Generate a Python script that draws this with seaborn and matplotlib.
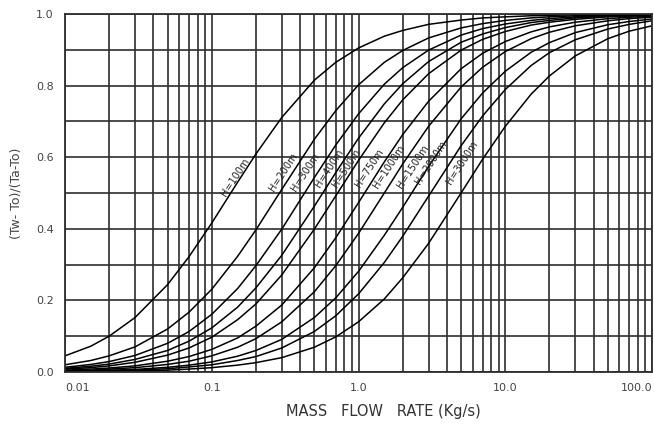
#chart of temperature ratio vs mass flow rate for several heights H
import numpy as np
import pandas as pd
import seaborn as sns
import matplotlib
matplotlib.use('Agg')
import matplotlib.pyplot as plt
from matplotlib.ticker import FixedLocator, NullFormatter

#step1: values
mass_flow = [0.01, 0.015, 0.02, 0.03, 0.05, 0.07, 0.1, 0.15, 0.2, 0.3, 0.5, 0.7,
             1, 1.5, 2, 3, 5, 7, 10, 15, 20, 30, 50, 70, 100]

h100 = [0.045, 0.072, 0.100, 0.152, 0.244, 0.322, 0.416, 0.530, 0.609, 0.711, 0.815, 0.865,
        0.905, 0.938, 0.954, 0.971, 0.983, 0.989, 0.992, 0.995, 0.996, 0.998, 0.999, 0.999, 1.0]
h200 = [0.020, 0.032, 0.045, 0.070, 0.120, 0.167, 0.231, 0.323, 0.397, 0.510, 0.650, 0.730,
        0.802, 0.865, 0.898, 0.933, 0.961, 0.973, 0.982, 0.989, 0.992, 0.995, 0.997, 0.998, 0.999]
h300 = [0.013, 0.021, 0.029, 0.046, 0.080, 0.113, 0.161, 0.233, 0.297, 0.399, 0.543, 0.634,
        0.721, 0.804, 0.850, 0.899, 0.941, 0.959, 0.972, 0.982, 0.987, 0.992, 0.995, 0.997, 0.998]
h400 = [0.010, 0.016, 0.022, 0.035, 0.060, 0.086, 0.123, 0.181, 0.235, 0.326, 0.463, 0.557,
        0.653, 0.749, 0.805, 0.867, 0.921, 0.944, 0.962, 0.976, 0.982, 0.989, 0.994, 0.996, 0.997]
h500 = [0.008, 0.012, 0.017, 0.027, 0.047, 0.067, 0.097, 0.146, 0.190, 0.271, 0.399, 0.492,
        0.591, 0.696, 0.760, 0.833, 0.899, 0.929, 0.951, 0.969, 0.977, 0.985, 0.992, 0.994, 0.996]
h750 = [0.005, 0.008, 0.011, 0.017, 0.030, 0.043, 0.063, 0.095, 0.128, 0.187, 0.291, 0.375,
        0.473, 0.587, 0.663, 0.756, 0.847, 0.890, 0.923, 0.950, 0.964, 0.977, 0.987, 0.991, 0.994]
h1000 = [0.003, 0.005, 0.008, 0.012, 0.021, 0.030, 0.045, 0.069, 0.093, 0.140, 0.224, 0.297,
         0.387, 0.500, 0.581, 0.686, 0.796, 0.851, 0.895, 0.931, 0.949, 0.967, 0.981, 0.987, 0.991]
h1500 = [0.002, 0.003, 0.005, 0.007, 0.013, 0.019, 0.028, 0.044, 0.060, 0.091, 0.152, 0.207,
         0.281, 0.382, 0.460, 0.574, 0.707, 0.779, 0.840, 0.893, 0.920, 0.948, 0.970, 0.979, 0.986]
h2000 = [0.002, 0.002, 0.003, 0.005, 0.009, 0.014, 0.020, 0.032, 0.043, 0.067, 0.113, 0.157,
         0.218, 0.306, 0.379, 0.491, 0.632, 0.715, 0.789, 0.856, 0.892, 0.928, 0.958, 0.971, 0.981]
h3000 = [0.001, 0.001, 0.002, 0.003, 0.005, 0.008, 0.012, 0.019, 0.026, 0.040, 0.069, 0.098,
         0.140, 0.204, 0.263, 0.359, 0.500, 0.594, 0.686, 0.776, 0.827, 0.883, 0.931, 0.952, 0.967]

heights = ['H=100m', 'H=200m', 'H=300m', 'H=400m', 'H=500m',
           'H=750m', 'H=1000m', 'H=1500m', 'H=2000m', 'H=3000m']
curves = [h100, h200, h300, h400, h500, h750, h1000, h1500, h2000, h3000]

# label spots along the curves (x, y in data units)
label_x = [0.145, 0.305, 0.437, 0.63, 0.82, 1.18, 1.62, 2.35, 3.12, 5.05]
label_y = [0.545, 0.559, 0.559, 0.57, 0.57, 0.57, 0.575, 0.573, 0.584, 0.584]

x_ticks = [0.01, 0.1, 1, 10, 100]
x_ticklabels = ['0.01', '0.1', '1.0', '10.0', '100.0']
y_ticks = [0.0, 0.2, 0.4, 0.6, 0.8, 1.0]
y_ticklabels = ['0.0', '0.2', '0.4', '0.6', '0.8', '1.0']

#step2: long table for seaborn
rows = []
for name, vals in zip(heights, curves):
    for m, v in zip(mass_flow, vals):
        rows.append({'flow': m, 'ratio': v, 'H': name})
df = pd.DataFrame(rows)

#step3: drawing
sns.set_style('white')
plt.rcParams['font.family'] = ['DejaVu Sans']
ink = '#2e2e2e'

fig = plt.figure(figsize=(6.54, 4.30), dpi=100)
ax = fig.add_axes([0.0994, 0.135, 0.8976, 0.8325])

sns.lineplot(data=df, x='flow', y='ratio', hue='H', palette=['black'] * len(heights),
             legend=False, linewidth=1.1, ax=ax, sort=True, errorbar=None)

ax.set_xscale('log')
ax.set_xlim(0.01, 100)
ax.set_ylim(0, 1.0)

minor_x = [k * 10.0 ** e for e in range(-2, 2) for k in range(2, 10)]
ax.xaxis.set_major_locator(FixedLocator(x_ticks))
ax.xaxis.set_minor_locator(FixedLocator(minor_x))
ax.xaxis.set_minor_formatter(NullFormatter())
ax.set_xticklabels(x_ticklabels)
ax.set_yticks(y_ticks)
ax.set_yticklabels(y_ticklabels)
ax.yaxis.set_minor_locator(FixedLocator([0.1, 0.3, 0.5, 0.7, 0.9]))

ax.grid(which='both', axis='both', color=ink, linewidth=1.2)
ax.set_axisbelow(True)
ax.tick_params(which='both', length=0, labelsize=8, colors='#444444', pad=8)
ax.get_xticklabels()[-1].set_horizontalalignment('right')
ax.get_xticklabels()[0].set_horizontalalignment('left')
for sp in ax.spines.values():
    sp.set_color(ink)
    sp.set_linewidth(1.3)

ax.set_xlabel('')
ax.set_ylabel('(Tw- To)/(Ta-To)', fontsize=9, color='#444444', labelpad=10)
fig.text(0.586, 0.032, 'MASS   FLOW   RATE (Kg/s)', fontsize=10.5, color='#333333', ha='center')

for name, lx, ly in zip(heights, label_x, label_y):
    ax.text(lx, ly, name, rotation=57, fontsize=7, ha='center', va='center',
            color='#222222')

plt.savefig('out.png', dpi=100)
